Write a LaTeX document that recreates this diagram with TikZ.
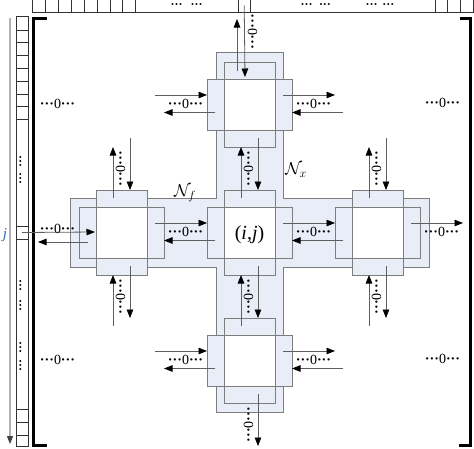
\documentclass[tikz,border=0pt]{standalone}
\usepackage{fontspec}
\setmainfont{Liberation Serif}
\usetikzlibrary{arrows.meta,calc}
\definecolor{bandblue}{RGB}{232,237,247}
\definecolor{edgegray}{RGB}{125,125,125}
\definecolor{arrgray}{RGB}{95,95,95}
\definecolor{jblue}{RGB}{40,105,185}
\newcommand{\zlabel}{\textbf{···}0\textbf{···}}
\newcommand{\hpair}[2]{%
  \draw[arr] ([shift={(-9,-9.5)}]#1) -- ([shift={(0,-9.5)}]#2);
  \node[zlab] at ($(#1)!0.5!(#2)+(0,-1)$) {\zlabel};
  \draw[arr] ([shift={(8,8)}]#2) -- ([shift={(0,8)}]#1);}
\newcommand{\hout}[2]{%
  \draw[arr] ([shift={(-9,-9.5)}]#1) -- ([shift={(0,-9.5)}]#2);
  \node[zlab] at ($(#1)!0.5!(#2)+(0,-1)$) {\zlabel};}
\newcommand{\vpair}[2]{%
  \draw[arr] ([shift={(-8.5,8)}]#2) -- ([shift={(-8.5,0)}]#1);
  \node[zlab,rotate=90] at ($(#1)!0.5!(#2)+(-1,0)$) {\zlabel};
  \draw[arr] ([shift={(8.5,-9)}]#1) -- ([shift={(8.5,0)}]#2);}
\newcommand{\vout}[2]{%
  \node[zlab,rotate=90] at ($(#1)!0.5!(#2)+(-1,0)$) {\zlabel};
  \draw[arr] ([shift={(8.5,-9)}]#1) -- ([shift={(8.5,0)}]#2);}
\newcommand{\cellat}[3]{%
  \node[hrect] (#1-h) at (#2,#3) {};
  \node[vrect] (#1-v) at (#2,#3) {};
  \node[wsq] (#1-w) at (#2,#3) {};}
\begin{document}
\begin{tikzpicture}[x=1pt,y=-1pt,
  band/.style={draw=edgegray,fill=bandblue,line width=0.9pt},
  hrect/.style={draw=edgegray,fill=bandblue,line width=0.9pt,minimum width=85pt,minimum height=51pt,inner sep=0pt,outer sep=0pt},
  vrect/.style={draw=edgegray,fill=bandblue,line width=0.9pt,minimum width=51pt,minimum height=85pt,inner sep=0pt,outer sep=0pt},
  wsq/.style={draw=edgegray,fill=white,line width=0.9pt,minimum size=51pt,inner sep=0pt,outer sep=0pt},
  arr/.style={draw=arrgray,line width=0.8pt,-{Triangle[length=8.5pt,width=6.5pt,black]}},
  garr/.style={draw=black!30,line width=1.2pt,-{Triangle[length=8pt,width=6pt,black!75]}},
  zlab/.style={inner sep=0pt,font=\fontsize{14}{14}\selectfont},
  sdots/.style={inner sep=0pt,font=\fontsize{12}{12}\selectfont\bfseries},
  strip/.style={draw=black!80,line width=0.9pt},
  scell/.style={draw=black!80,line width=0.9pt,inner sep=0pt,outer sep=0pt},
  brk/.style={draw=black,line width=3pt,line cap=rect,line join=miter},
]
\useasboundingbox (0,0) rectangle (474,448);
% strips
\draw[strip] (32.7,-2) rectangle (473.3,12.7);
\foreach \x in {45.7,58.3,71.7,84.3,97.3,110,122.7,135.7,435,447.7,460.7}
  \draw[strip] (\x,-2) -- (\x,12.7);
\node[scell,minimum width=11.7pt,minimum height=14.7pt] (colj) at (244.2,5.35) {};
\draw[strip] (16,16.7) rectangle (28,446.7);
\foreach \y in {30,42.7,55.7,68.3,81,94,106.7,119.3,409.3,422.3,435}
  \draw[strip] (16,\y) -- (28,\y);
\node[scell,minimum width=12pt,minimum height=13pt] (rowj) at (22,232.5) {};
\foreach \x in {176.7,196.7,306.7,325,371.7,388.3}
  \node[sdots] at (\x,6.5) {···};
\foreach \y in {161,178,285,305,347,365}
  \node[sdots,rotate=90] at (22,\y) {···};
\node[font=\fontsize{15}{15}\selectfont\itshape,text=jblue,inner sep=0pt] (jl) at (5,235) {j};
% gray long arrow
\coordinate (ga1) at (10,18);
\coordinate (ga2) at (10,444);
\draw[garr] (ga1) -- (ga2);
% brackets
\draw[brk] (45,18.5) -- (33.5,18.5) -- (33.5,445.5) -- (45,445.5);
\draw[brk] (461,18.5) -- (470,18.5) -- (470,445.5) -- (460,445.5);
% bands
\draw[band] (216,52) -- (283,52) -- (283,198) -- (429,198) -- (429,267) -- (283,267)
  -- (283,412) -- (216,412) -- (216,267) -- (70,267) -- (70,198) -- (216,198) -- cycle;
% cells
\cellat{T}{249.5}{104.5}
\cellat{L}{121.5}{232.5}
\cellat{C}{249.5}{232.5}
\cellat{R}{377.5}{232.5}
\cellat{B}{249.5}{360.5}
\node[font=\fontsize{20}{20}\selectfont,inner sep=0pt] (ij) at ([yshift=-2.5pt]C-w.center) {(\textit{i},\textit{j})};
\node[font=\fontsize{17}{17}\selectfont,inner sep=0pt] (Nxl) at (296,170) {$\mathcal{N}_x$};
\node[font=\fontsize{17}{17}\selectfont,inner sep=0pt] (Nfl) at (185,193) {$\mathcal{N}_f$};
% outer coordinates
\coordinate (TLx) at ([shift={(-43,0)}]T-h.west);
\coordinate (TRx) at ([shift={(43,0)}]T-h.east);
\coordinate (BLx) at ([shift={(-43,0)}]B-h.west);
\coordinate (BRx) at ([shift={(43,0)}]B-h.east);
\coordinate (RRx) at ([shift={(43,0)}]R-h.east);
\coordinate (LTy) at ([shift={(0,-43)}]L-v.north);
\coordinate (LBy) at ([shift={(0,43)}]L-v.south);
\coordinate (RTy) at ([shift={(0,-43)}]R-v.north);
\coordinate (RBy) at ([shift={(0,43)}]R-v.south);
\coordinate (BBy) at ([shift={(0,43)}]B-v.south);
% links
\hpair{TLx}{T-h.west}
\hpair{T-h.east}{TRx}
\hpair{L-h.east}{C-h.west}
\hpair{C-h.east}{R-h.west}
\hout{R-h.east}{RRx}
\hpair{BLx}{B-h.west}
\hpair{B-h.east}{BRx}
\vpair{LTy}{L-v.north}
\vpair{L-v.south}{LBy}
\vpair{RTy}{R-v.north}
\vpair{R-v.south}{RBy}
\vpair{T-v.south}{C-v.north}
\vpair{C-v.south}{B-v.north}
\vout{B-v.south}{BBy}
% special links to strips
\coordinate (Tup) at (237,19);
\draw[arr] (colj.center) -- ([shift={(-4.5,-2)}]T-w.north);
\draw[arr] ([shift={(-12.5,-8)}]T-w.north) -- (Tup);
\node[zlab,rotate=90] at (252.5,31.5) {\zlabel};
\coordinate (Lout) at (38,242);
\draw[arr] (rowj.center) -- ([shift={(-1,-0.5)}]L-w.west);
\draw[arr] ([shift={(-8,9.5)}]L-w.west) -- (Lout);
\node[zlab] at (57.5,228.5) {\zlabel};
% big zero labels
\node[zlab] at (57.5,104) {\zlabel};
\node[zlab] at (442.5,103) {\zlabel};
\node[zlab] at (57.5,360) {\zlabel};
\node[zlab] at (442.5,358.5) {\zlabel};
\end{tikzpicture}
\end{document}
